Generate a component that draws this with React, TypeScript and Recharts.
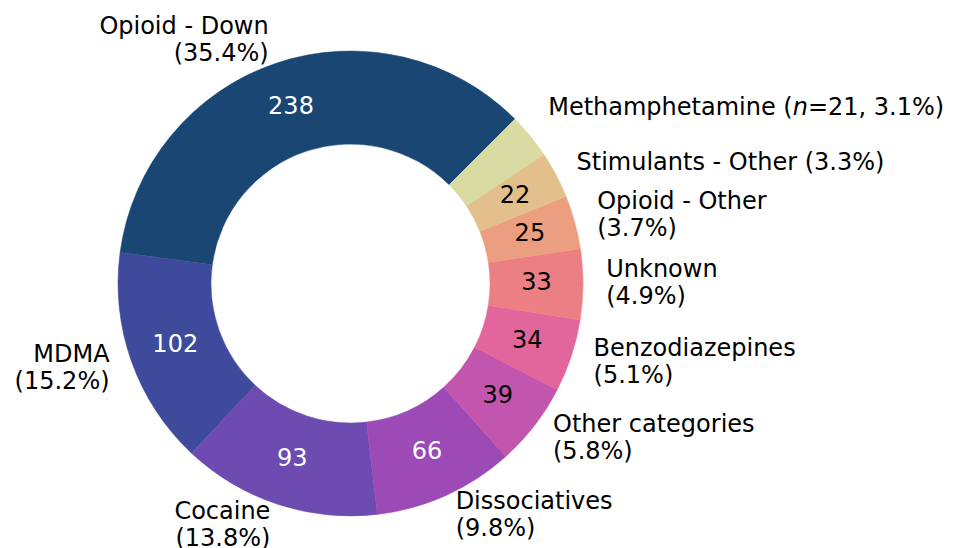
import { PieChart, Pie, Cell } from "recharts";

const categories = [
  "Opioid - Down",
  "MDMA",
  "Cocaine",
  "Dissociatives",
  "Other categories",
  "Benzodiazepines",
  "Unknown",
  "Opioid - Other",
  "Stimulants - Other",
  "Methamphetamine",
];
const counts = [238, 102, 93, 66, 39, 34, 33, 25, 22, 21];
const colors = [
  "#1a4674",
  "#3e4a9b",
  "#6d4bb0",
  "#9b4ab6",
  "#c255ad",
  "#e2669b",
  "#ec7f84",
  "#eb9e80",
  "#e3c08b",
  "#d9dba2",
];
// white counts on the dark wedges, black on the light ones, none on the smallest
const countColors = [
  "#ffffff",
  "#ffffff",
  "#ffffff",
  "#ffffff",
  "#000000",
  "#000000",
  "#000000",
  "#000000",
  "#000000",
  null,
];
const singleLine = ["Stimulants - Other", "Methamphetamine"];

const data = categories.map((name, i) => ({ name, value: counts[i] }));

const RAD = Math.PI / 180;
const FONT = 24;
const LINE = 27;
const FAMILY = "'DejaVu Sans', sans-serif";

function renderLabel(props: any) {
  const { cx, cy, midAngle, outerRadius, percent, index, value, name } = props;
  const cos = Math.cos(-midAngle * RAD);
  const sin = Math.sin(-midAngle * RAD);
  const base = FONT * 0.26;

  // count inside the ring
  const rIn = outerRadius * 0.8;
  const ix = cx + rIn * cos;
  const iy = cy + rIn * sin;

  // name + share outside
  const rOut = outerRadius * 1.1;
  const ox = cx + rOut * cos;
  // the methamphetamine label sits a little higher than the rest
  const oy = cy + rOut * sin + (name === "Methamphetamine" ? -12 : 0);
  const anchor = cos >= 0 ? "start" : "end";
  const pct = (percent * 100).toFixed(1);

  let outer;
  if (name === "Methamphetamine") {
    outer = (
      <text x={ox} y={oy + base} textAnchor={anchor} fill="#000">
        Methamphetamine (<tspan fontStyle="italic">n</tspan>={value}, {pct}%)
      </text>
    );
  } else if (singleLine.includes(name)) {
    outer = (
      <text x={ox} y={oy + base} textAnchor={anchor} fill="#000">
        {`${name} (${pct}%)`}
      </text>
    );
  } else {
    outer = (
      <text textAnchor={anchor} fill="#000">
        <tspan x={ox} y={oy + base - LINE / 2}>
          {name}
        </tspan>
        <tspan x={ox} y={oy + base + LINE / 2}>
          {`(${pct}%)`}
        </tspan>
      </text>
    );
  }

  const countColor = countColors[index];

  return (
    <g key={`lbl-${index}`} fontFamily={FAMILY} fontSize={FONT}>
      {countColor && (
        <text x={ix} y={iy + base} textAnchor="middle" fill={countColor}>
          {value}
        </text>
      )}
      {outer}
    </g>
  );
}

export default function App() {
  return (
    <div style={{ position: "fixed", left: 0, top: 0, background: "#fff" }}>
      <PieChart
        width={964}
        height={548}
        margin={{ top: 0, right: 0, bottom: 0, left: 0 }}
      >
        <Pie
          data={data}
          dataKey="value"
          nameKey="name"
          cx={350.5}
          cy={283.5}
          outerRadius={232.5}
          innerRadius={139.5}
          startAngle={45}
          endAngle={405}
          stroke="none"
          label={renderLabel}
          labelLine={false}
          isAnimationActive={false}
        >
          {data.map((d, i) => (
            <Cell key={d.name} fill={colors[i]} stroke={colors[i]} strokeWidth={0.5} />
          ))}
        </Pie>
      </PieChart>
    </div>
  );
}
